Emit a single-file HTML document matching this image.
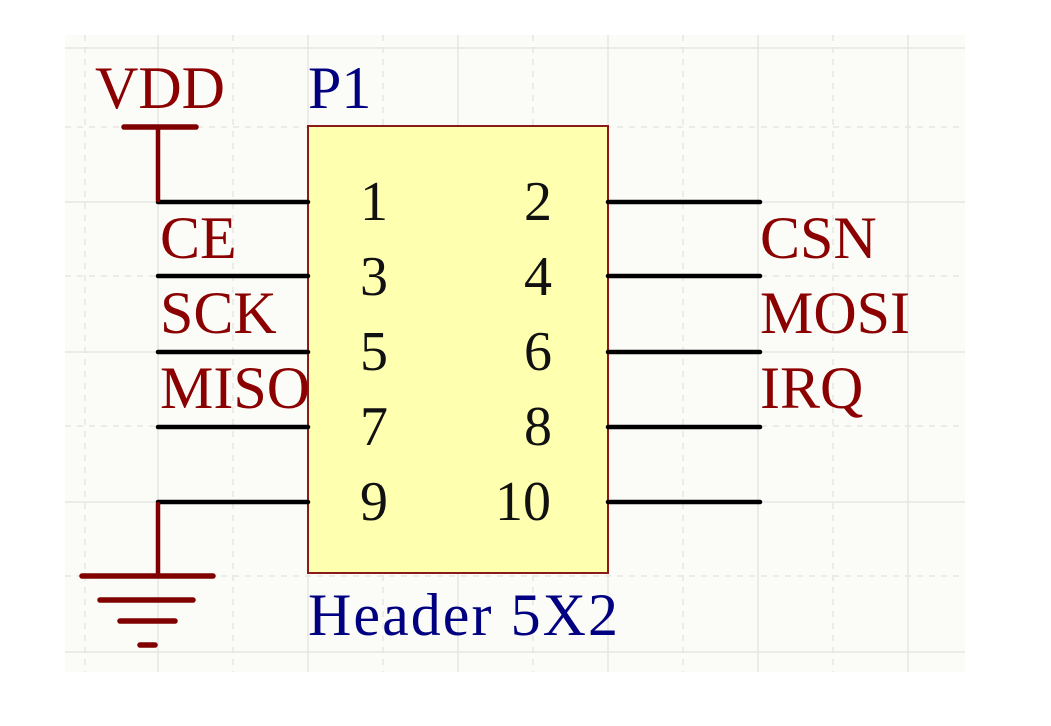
<!DOCTYPE html>
<html><head><style>
html,body{margin:0;padding:0;background:#fff;}
</style></head><body>
<svg width="1051" height="721" xmlns="http://www.w3.org/2000/svg" font-family="Liberation Serif, serif">
<rect x="0" y="0" width="1051" height="721" fill="#fff"/>
<rect x="65" y="35" width="900" height="637" fill="#fbfbf8"/>
<g stroke="#e6e6e2" stroke-width="1.5">
<line x1="158" y1="35" x2="158" y2="672"/><line x1="308" y1="35" x2="308" y2="672"/><line x1="458" y1="35" x2="458" y2="672"/><line x1="608" y1="35" x2="608" y2="672"/><line x1="758" y1="35" x2="758" y2="672"/><line x1="908" y1="35" x2="908" y2="672"/>
<line x1="65" y1="48" x2="965" y2="48"/><line x1="65" y1="202" x2="965" y2="202"/><line x1="65" y1="352" x2="965" y2="352"/><line x1="65" y1="502" x2="965" y2="502"/><line x1="65" y1="652" x2="965" y2="652"/>
</g>
<g stroke="#e6e6e2" stroke-width="1.5" stroke-dasharray="6 6">
<line x1="85" y1="35" x2="85" y2="672"/><line x1="233" y1="35" x2="233" y2="672"/><line x1="383" y1="35" x2="383" y2="672"/><line x1="533" y1="35" x2="533" y2="672"/><line x1="683" y1="35" x2="683" y2="672"/><line x1="833" y1="35" x2="833" y2="672"/>
<line x1="65" y1="127" x2="965" y2="127"/><line x1="65" y1="276" x2="965" y2="276"/><line x1="65" y1="426" x2="965" y2="426"/><line x1="65" y1="576" x2="965" y2="576"/>
</g>
<rect x="308" y="126" width="300" height="447" fill="#ffffb0" stroke="#8b1a1a" stroke-width="2"/>
<g stroke="#000" stroke-width="4.5" stroke-linecap="round">
<line x1="158" y1="202" x2="308" y2="202"/><line x1="158" y1="276" x2="308" y2="276"/><line x1="158" y1="352" x2="308" y2="352"/><line x1="158" y1="427" x2="308" y2="427"/><line x1="158" y1="502" x2="308" y2="502"/>
<line x1="608" y1="202" x2="760" y2="202"/><line x1="608" y1="276" x2="760" y2="276"/><line x1="608" y1="352" x2="760" y2="352"/><line x1="608" y1="427" x2="760" y2="427"/><line x1="608" y1="502" x2="760" y2="502"/>
</g>
<g stroke="#800000" stroke-linecap="round">
<line x1="158" y1="127" x2="158" y2="200" stroke-width="4.5"/>
<line x1="124" y1="127" x2="196" y2="127" stroke-width="5.5"/>
<line x1="158" y1="504" x2="158" y2="576" stroke-width="4.5"/>
<line x1="82" y1="576" x2="213" y2="576" stroke-width="5.5"/>
<line x1="100" y1="600" x2="193" y2="600" stroke-width="5.5"/>
<line x1="120" y1="621" x2="175" y2="621" stroke-width="5.5"/>
<line x1="140" y1="645" x2="155" y2="645" stroke-width="5.5"/>
</g>
<g fill="#8b0000" font-size="60">
<text x="95" y="108">VDD</text>
<text x="160" y="258">CE</text>
<text x="160" y="333">SCK</text>
<text x="160" y="408">MISO</text>
<text x="760" y="258">CSN</text>
<text x="760" y="333">MOSI</text>
<text x="760" y="408">IRQ</text>
</g>
<g fill="#000080" font-size="60">
<text x="308" y="108">P1</text>
<text x="308" y="635" textLength="310">Header 5X2</text>
</g>
<g fill="#111" font-size="56" text-anchor="middle">
<text x="374" y="220">1</text><text x="538" y="220">2</text>
<text x="374" y="295">3</text><text x="538" y="295">4</text>
<text x="374" y="370">5</text><text x="538" y="370">6</text>
<text x="374" y="445">7</text><text x="538" y="445">8</text>
<text x="374" y="520">9</text><text x="523" y="520">10</text>
</g>
</svg>
</body></html>
